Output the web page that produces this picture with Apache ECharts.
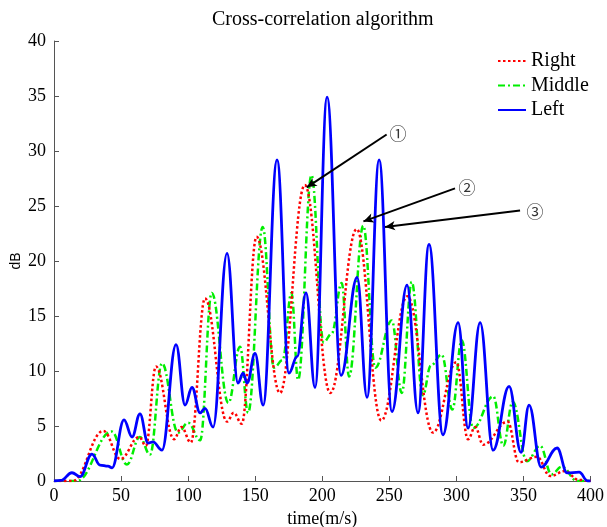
<!DOCTYPE html>
<html>
<head>
<meta charset="utf-8">
<script src="https://cdn.jsdelivr.net/npm/echarts@6/dist/echarts.min.js"></script>
<style>
html,body{margin:0;padding:0;background:#fff;}
#chart{width:607px;height:527px;}
</style>
</head>
<body>
<div id="chart"></div>
<script>
// ---- data ----
const seriesNames = ['Right', 'Middle', 'Left'];
const xTicks = [0, 50, 100, 150, 200, 250, 300, 350, 400];
const yTicks = [0, 5, 10, 15, 20, 25, 30, 35, 40];

const rightX = [0, 14, 36.8, 49.5, 63.5, 68.5, 76, 89.5, 95, 102, 112.6, 129, 134, 140, 151, 168.5, 187, 206, 225.7, 244, 263.5, 282.6, 300, 308.7, 314, 320, 338.2, 346.5, 360, 370, 381, 391, 400];
const rightY = [0, 0, 4.55, 2.0, 4.0, 3.2, 10.4, 3.8, 4.9, 3.5, 16.6, 5.4, 6.2, 5.2, 22.2, 8.0, 26.9, 8.0, 22.9, 5.5, 16.8, 4.4, 10.8, 3.8, 4.9, 3.3, 5.4, 1.7, 2.2, 0.45, 0.9, 0.1, 0];

const middleX = [0, 17, 43, 54.4, 64, 71.6, 80.5, 92.5, 100, 109, 117.6, 130, 138.7, 144.7, 155.6, 164, 170.5, 177, 182, 192, 201, 207, 214.5, 220, 230.6, 239.5, 251.8, 259.3, 266.7, 275, 281, 289, 297, 304, 312.5, 327.5, 335, 342, 352.6, 362.4, 371, 378.6, 390, 400];
const middleY = [0, 0, 4.5, 1.5, 4.0, 2.4, 10.7, 4.4, 5.3, 3.7, 17.1, 7.1, 12.2, 6.2, 23.1, 10.3, 11.0, 17.1, 9.2, 27.8, 12.6, 13.4, 18.0, 9.5, 23.2, 10.3, 14.6, 8.0, 18.1, 7.8, 10.5, 11.5, 6.5, 12.8, 4.8, 7.7, 3.2, 7.2, 1.8, 3.2, 0.6, 1.3, 0, 0];

const leftX = [0, 5, 13.4, 19.4, 28.3, 34.3, 40.3, 43.3, 52.2, 58.2, 64.1, 70.1, 73.8, 80.5, 91, 97.7, 102.9, 108.9, 112.6, 118.6, 129, 137.2, 141, 144, 149.9, 155.9, 166.3, 175.2, 181.2, 187.9, 194.6, 203.6, 214, 226, 233.4, 242.4, 252, 263.2, 271.4, 279.6, 290, 301.3, 308.7, 317.7, 327.4, 339.3, 348.2, 354.2, 363.2, 375.1, 382.6, 391.5, 398, 400];
const leftY = [0, 0.05, 0.75, 0.4, 2.45, 1.45, 1.35, 1.2, 5.55, 4.0, 6.1, 3.45, 3.55, 2.8, 12.4, 6.9, 8.5, 6.2, 6.6, 4.9, 20.7, 8.9, 9.8, 8.9, 11.6, 6.9, 29.2, 9.8, 11.3, 17.1, 8.5, 34.9, 9.6, 18.5, 7.6, 29.2, 6.3, 17.8, 6.2, 21.5, 4.2, 14.4, 4.8, 14.4, 2.8, 8.6, 2.6, 6.9, 1.27, 3.0, 0.73, 0.8, 0, 0];

// annotation arrows (data space): [fromX, fromY, toX, toY]
const arrows = [[248, 31.5, 188.4, 26.7], [299, 26.6, 230.7, 23.6], [347.5, 24.6, 246.8, 23.1]];
const labelTexts = ['①', '②', '③'];
const labelX = [256.5, 308, 358.7];
const labelY = [31.6, 26.7, 24.5];

// ---- build ----
function pairs(xs, ys) { return xs.map((x, i) => [x, ys[i]]); }

const serif = 'Liberation Serif';
const chart = echarts.init(document.getElementById('chart'), null, {renderer: 'canvas'});

const markLineData = arrows.map(a => [{coord: [a[0], a[1]]}, {coord: [a[2], a[3]]}]);
const markPointData = labelTexts.map((t, i) => ({
  coord: [labelX[i], labelY[i]],
  value: t
}));

const SMOOTH = 0.4;
const option = {
  animation: false,
  backgroundColor: '#fff',
  title: {
    text: 'Cross-correlation algorithm',
    left: 207, top: 5,
    textStyle: {fontFamily: serif, fontSize: 20, fontWeight: 'normal', color: '#000'}
  },
  legend: {
    data: seriesNames,
    orient: 'vertical',
    left: 492, top: 46,
    itemWidth: 28, itemHeight: 14, itemGap: 4.5,
    itemStyle: {opacity: 0},
    textStyle: {fontFamily: serif, fontSize: 20, color: '#000', padding: [0, 0, 0, 0]}
  },
  grid: {left: 54, right: 16.5, top: 41, bottom: 46, containLabel: false, outerBoundsMode: 'none'},
  xAxis: {
    type: 'value', min: xTicks[0], max: xTicks[xTicks.length - 1], interval: 50,
    name: 'time(m/s)', nameLocation: 'middle', nameGap: 24,
    nameTextStyle: {fontFamily: serif, fontSize: 18, color: '#000'},
    axisLine: {show: true, lineStyle: {color: '#555', width: 1}},
    axisTick: {show: true, inside: true, length: 5, lineStyle: {color: '#555'}},
    axisLabel: {fontFamily: serif, fontSize: 18, color: '#000', margin: 6},
    splitLine: {show: false}
  },
  yAxis: {
    type: 'value', min: yTicks[0], max: yTicks[yTicks.length - 1], interval: 5,
    name: 'dB', nameLocation: 'middle', nameGap: 31, nameRotate: 90, nameMoveOverlap: false,
    nameTextStyle: {fontFamily: 'Liberation Sans', fontSize: 14, color: '#000'},
    axisLine: {show: true, lineStyle: {color: '#555', width: 1}},
    axisTick: {show: true, inside: true, length: 5, lineStyle: {color: '#555'}},
    axisLabel: {fontFamily: serif, fontSize: 18, color: '#000', margin: 8},
    splitLine: {show: false}
  },
  series: [
    {
      name: 'Right', type: 'line', smooth: SMOOTH, smoothMonotone: 'x', symbol: 'none',
      data: pairs(rightX, rightY),
      lineStyle: {color: '#ff0000', width: 2.5, type: [2.5, 2.5]},
      itemStyle: {color: '#ff0000'}, z: 3
    },
    {
      name: 'Middle', type: 'line', smooth: SMOOTH, smoothMonotone: 'x', symbol: 'none',
      data: pairs(middleX, middleY),
      lineStyle: {color: '#00ee00', width: 2.5, type: [7, 3, 2, 3]},
      itemStyle: {color: '#00ee00'}, z: 2
    },
    {
      name: 'Left', type: 'line', smooth: SMOOTH, smoothMonotone: 'x', symbol: 'none',
      data: pairs(leftX, leftY),
      lineStyle: {color: '#0000ff', width: 2.8},
      itemStyle: {color: '#0000ff'}, z: 4,
      markLine: {
        silent: true, symbol: ['none', 'arrow'], symbolSize: [7, 10],
        lineStyle: {color: '#000', width: 2, type: 'solid'},
        label: {show: false},
        data: markLineData
      },
      markPoint: {
        silent: true, symbol: 'circle', symbolSize: 1,
        itemStyle: {color: 'rgba(0,0,0,0)'},
        label: {show: true, position: 'inside', formatter: p => p.value,
          fontFamily: 'Noto Sans CJK SC', fontSize: 17, color: '#333'},
        data: markPointData
      }
    }
  ]
};
chart.setOption(option);
</script>
</body>
</html>
